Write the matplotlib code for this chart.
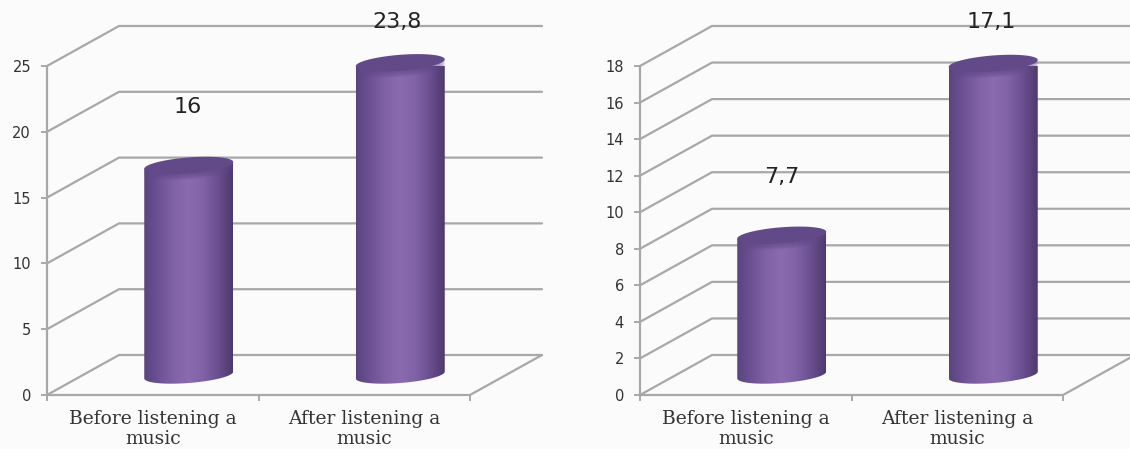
import numpy as np
import matplotlib
matplotlib.use("Agg")
import matplotlib.pyplot as plt
from matplotlib.colors import LinearSegmentedColormap
from matplotlib.patches import Polygon

categories = ["Before listening a\nmusic", "After listening a\nmusic"]
left_values = [16, 23.8]
right_values = [7.7, 17.1]
left_labels = ["16", "23,8"]
right_labels = ["7,7", "17,1"]
left_ticks = [0, 5, 10, 15, 20, 25]
right_ticks = [0, 2, 4, 6, 8, 10, 12, 14, 16, 18]

W, H = 1130, 449
GRID = "#a8a8a8"
TEXT = "#333333"
BACKGROUND = "#fbfbfb"
CAP = "#624a88"
BODY = LinearSegmentedColormap.from_list(
    "cylinder",
    ["#5a4480", "#6d5295", "#8062a6", "#8a6bb0", "#8062a6", "#6a4f90", "#4d3a6c"],
)

AX_W, AX_H = 423, 329       # front plane size
DEPTH_X, DEPTH_Y = 72, 40   # offset of the back wall
HALF_W, ELL_B, TILT = 44.5, 8.0, 3.4  # cylinder shape


def ellipse(cx, cy, sx, sy, t):
    """Tilted ellipse outline in data units; sx, sy convert pixels to data."""
    x = cx + HALF_W * np.cos(t) * sx
    y = cy + (ELL_B * np.sin(t) + TILT * np.cos(t)) * sy
    return x, y


def panel(fig, left_px, values, labels, ticks, label_pos):
    ax = fig.add_axes([left_px / W, (H - 395) / H, AX_W / W, AX_H / H])
    ymax = ticks[-1]
    sx, sy = 2 / AX_W, ymax / AX_H
    dx, dy = DEPTH_X * sx, DEPTH_Y * sy
    line = dict(color=GRID, lw=1.6, clip_on=False, solid_capstyle="round", zorder=1)

    # Wall gridlines, floor outline and left axis
    for t in ticks:
        ax.plot([0, dx, 2 + dx], [t, t + dy, t + dy], **line)
    ax.plot([0, 2, 2 + dx], [0, 0, dy], **line)
    ax.plot([0, 0], [0, ymax], **line)

    # Cylinders
    for i, v in enumerate(values):
        cx, base = i + 0.5 + dx / 2, dy / 2
        t = np.linspace(0, 2 * np.pi, 200)
        lower = t[(t >= np.pi) & (t <= 2 * np.pi)]
        bx, by = ellipse(cx, base, sx, sy, lower)
        tx, ty = ellipse(cx, base + v, sx, sy, lower[::-1])
        outline = np.column_stack([np.r_[bx, tx], np.r_[by, ty]])
        grad = np.linspace(0, 1, 256)[None, :]
        im = ax.imshow(
            grad, cmap=BODY, aspect="auto", zorder=3,
            extent=[cx - HALF_W * sx, cx + HALF_W * sx, 0, ymax * 1.2],
        )
        clip = Polygon(outline, closed=True, transform=ax.transData)
        im.set_clip_path(clip)
        # Top face, fading gradually into the body along its lower rim
        for shift in np.arange(-7.0, -1.0, 1.0):
            ex, ey = ellipse(cx, base + v + shift * sy, sx, sy, lower)
            ax.fill(ex, ey, color=CAP, alpha=0.16, zorder=4, clip_on=False, lw=0)
        ex, ey = ellipse(cx, base + v - 1.0 * sy, sx, sy, t)
        ax.fill(ex, ey, color=CAP, zorder=4, clip_on=False, lw=0)
        ax.text(label_pos[i][0], label_pos[i][1], labels[i], transform=None,
                fontsize=16, color="#222222", ha="center", va="center",
                family="DejaVu Sans", zorder=5)

    ax.set_xlim(0, 2)
    ax.set_ylim(0, ymax)
    ax.patch.set_visible(False)
    for s in ax.spines.values():
        s.set_visible(False)

    ax.set_xticks([0, 1, 2])
    ax.set_xticklabels([])
    ax.set_yticks(ticks)
    ax.set_yticklabels([str(t) for t in ticks], family="DejaVu Sans",
                       fontsize=10.5, color=TEXT)
    ax.tick_params(axis="both", color=GRID, width=1.4, length=4.5)
    ax.tick_params(axis="y", pad=7)

    for i, c in enumerate(categories):
        ax.text(i + 0.5, -14.5 * sy, c, ha="center", va="top",
                family="DejaVu Serif", fontsize=13.5, color=TEXT,
                linespacing=1.2, clip_on=False)
    return ax


def pixel_labels(positions):
    # Figure-pixel positions measured from the top edge
    return [(x, H - y) for x, y in positions]


fig = plt.figure(figsize=(W / 100, H / 100), dpi=100, facecolor=BACKGROUND)
panel(fig, 47, left_values, left_labels, left_ticks,
      pixel_labels([(188, 107), (397, 22)]))
panel(fig, 640, right_values, right_labels, right_ticks,
      pixel_labels([(782, 177), (991, 22)]))
fig.savefig("out.png", dpi=100, facecolor=BACKGROUND)
